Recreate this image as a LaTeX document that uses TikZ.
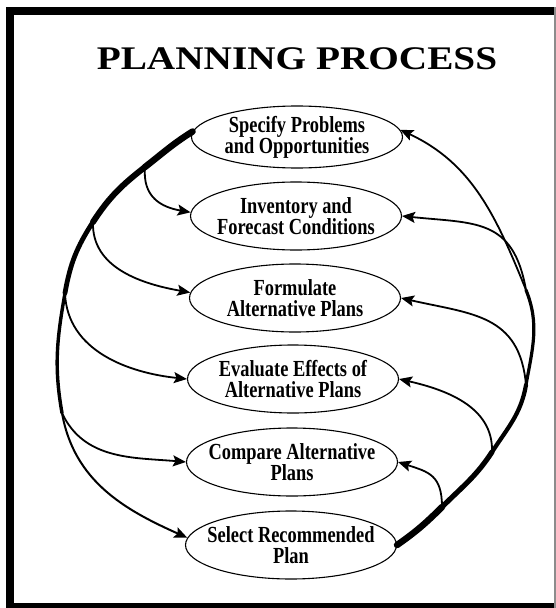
\documentclass[tikz,border=0pt]{standalone}
\usepackage{fontspec}
\usetikzlibrary{shapes.geometric, arrows.meta}
\newfontfamily\titlefont{Liberation Serif}[FakeStretch=1.19]
\newfontfamily\boxfont{Liberation Serif}[FakeStretch=0.8]

\begin{document}
\begin{tikzpicture}[
  x=1pt,y=1pt,
  stage/.style={
    ellipse, draw, line width=1.1pt,
    minimum width=211pt, minimum height=68pt,
    inner xsep=-16pt, inner ysep=-2pt,
    align=center, font=\boxfont\bfseries\fontsize{23}{21}\selectfont
  },
  feed/.style={line width=1.8pt, -{Stealth[length=13pt,width=11pt,inset=2.5pt]}},
  trunk/.style={line cap=round}
]
\useasboundingbox (0,0) rectangle (556,-608);
\clip (0,0) rectangle (556,-608);

% ---- frame and heading ----
\draw[line width=8pt] (10,-11) rectangle (563,-607);
\draw[line width=1.5pt, black!45] (555,-7) -- (555,-608);
\node[anchor=base, font=\titlefont\bfseries\fontsize{33}{36}\selectfont] (title) at (297,-69) {PLANNING PROCESS};

% ---- stages, top to bottom ----
\node[stage, minimum height=62pt] (specify)  at (297,-137) {Specify Problems\\and Opportunities};
\node[stage]                      (inventory) at (296,-216) {Inventory and\\Forecast Conditions};
\node[stage]                      (formulate) at (295,-298) {Formulate\\Alternative Plans};
\node[stage]                      (evaluate)  at (293,-379) {Evaluate Effects of\\Alternative Plans};
\node[stage]                      (compare)   at (292,-462) {Compare Alternative\\Plans};
\node[stage]                      (select)    at (291,-545) {Select Recommended\\Plan};

% ---- split points on the left sweep ----
\coordinate (L2) at (145,-167);
\coordinate (L3) at (93,-222);
\coordinate (L4) at (65,-293);
\coordinate (L5) at (62,-413);

% left sweep, thinning on the way down
\draw[trunk, line width=6.5pt] (specify.177) to[out=212,in=38] (L2);
\draw[trunk, line width=6pt]   (L2) to[out=218,in=57] (L3);
\draw[trunk, line width=4.8pt] (L3) to[out=237,in=80] (L4);
\draw[trunk, line width=3.4pt] (L4) to[out=260,in=100] (L5);
\draw[feed, line width=2pt]    (L5) to[out=280,in=156] (select.176);

% left branches into each stage
\draw[feed] (L2) to[out=265,in=170,looseness=1.2] (inventory.178);
\draw[feed] (L3) to[out=268,in=170] (formulate.177);
\draw[feed] (L4) to[out=272,in=174] (evaluate.west);
\draw[feed] (L5) to[out=295,in=175] (compare.west);

% ---- merge points on the right sweep ----
\coordinate (M5) at (442,-507);
\coordinate (M4) at (492,-452);
\coordinate (M3) at (526,-385);
\coordinate (M2) at (526,-290);

% right sweep, thinning on the way up
\draw[trunk, line width=6.5pt] (select.east) to[out=35,in=-135] (M5);
\draw[trunk, line width=5.2pt] (M5) to[out=45,in=-123] (M4);
\draw[trunk, line width=4.2pt] (M4) to[out=57,in=-100] (M3);
\draw[trunk, line width=3.2pt] (M3) to[out=80,in=-68] (M2);
\draw[feed]                    (M2) to[out=112,in=-25] (specify.4);

% right branches back into each stage
\draw[feed] (M2) to[out=100,in=-6,looseness=1.3] (inventory.east);
\draw[feed] (M3) to[out=95,in=-13,looseness=1.2] (formulate.east);
\draw[feed] (M4) to[out=88,in=-13] (evaluate.east);
\draw[feed] (M5) to[out=90,in=-18,looseness=1.3] (compare.east);

\end{tikzpicture}
\end{document}
